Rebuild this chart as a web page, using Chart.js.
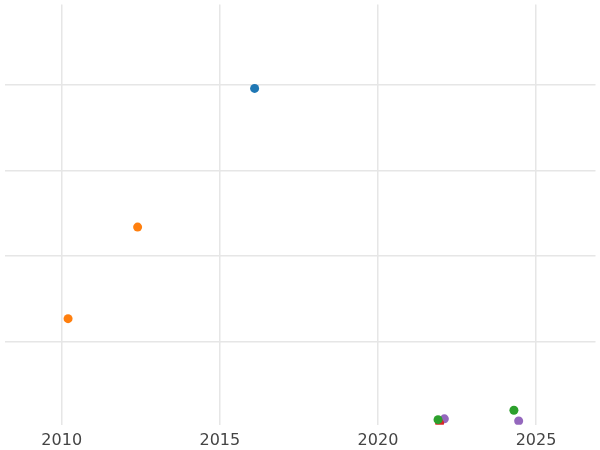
<!DOCTYPE html>
<html>
<head>
<meta charset="UTF-8">
<script src="https://cdn.jsdelivr.net/npm/chart.js"></script>
<style>
  body { margin: 0; background: #fff; }
  #wrap { width: 600px; height: 450px; }
</style>
</head>
<body>
<div id="wrap"><canvas id="c"></canvas></div>
<script>
const xTicks = [2010, 2015, 2020, 2025];
const yGrid = [1, 2, 3, 4];
const seriesColors = ['#1f77b4', '#ff7f0e', '#2ca02c', '#d62728', '#9467bd'];
const seriesX = [[2016.1], [2012.4, 2010.2], [2021.9, 2024.3], [2021.95], [2022.1, 2024.45]];
const seriesY = [[3.96], [2.34, 1.27], [0.09, 0.2], [0.05], [0.1, 0.075]];

const datasets = seriesX.map((xs, i) => ({
  data: xs.map((x, j) => ({ x: x, y: seriesY[i][j] })),
  backgroundColor: seriesColors[i],
  borderColor: seriesColors[i],
  pointRadius: 4.5,
  pointBorderWidth: 0
}));

new Chart(document.getElementById('c'), {
  type: 'scatter',
  data: { datasets },
  options: {
    responsive: true,
    maintainAspectRatio: false,
    animation: false,
    layout: { padding: { left: -5, right: -5, top: -5, bottom: -6 } },
    plugins: { legend: { display: false }, tooltip: { enabled: false } },
    scales: {
      x: {
        min: 2008.19, max: 2026.88,
        afterBuildTicks: s => { s.ticks = xTicks.map(v => ({ value: v })); },
        grid: { color: '#e6e6e6', lineWidth: 1.5, drawTicks: false },
        border: { display: false },
        ticks: { color: '#444', font: { family: 'DejaVu Sans', size: 16 }, padding: 6, maxRotation: 0,
                 callback: v => String(v) }
      },
      y: {
        min: 0.03, max: 4.94,
        afterBuildTicks: s => { s.ticks = yGrid.map(v => ({ value: v })); },
        grid: { color: '#e6e6e6', lineWidth: 1.5, drawTicks: false },
        border: { display: false },
        ticks: { display: false }
      }
    }
  }
});
</script>
</body>
</html>
